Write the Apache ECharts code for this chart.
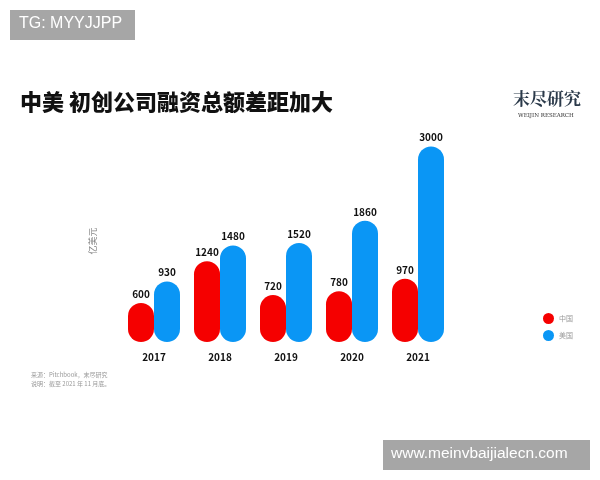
<!DOCTYPE html>
<html>
<head>
<meta charset="utf-8">
<script src="https://cdn.jsdelivr.net/npm/echarts@6/dist/echarts.min.js"></script>
<style>html,body{margin:0;padding:0;background:#fff}#main{width:600px;height:480px}</style>
</head>
<body>
<div id="main"></div>
<script>
var years = ['2017', '2018', '2019', '2020', '2021']
var china = [600, 1240, 720, 780, 970]
var usa = [930, 1480, 1520, 1860, 3000]

var font = '"Noto Sans CJK SC", "Noto Sans", sans-serif'
var label = { show: true, position: 'top', fontWeight: 'bold', fontSize: 10, color: '#111', fontFamily: font, distance: 4 }

var option = {
  backgroundColor: '#fff',
  graphic: [
    { type: 'rect', left: 10, top: 10, shape: { width: 125, height: 30 }, style: { fill: '#a6a6a6' } },
    { type: 'text', left: 19, top: 16, style: { text: 'TG: MYYJJPP', fill: '#fff', font: '16px "Liberation Sans", Arial' } },
    { type: 'rect', left: 383, top: 440, shape: { width: 207, height: 30 }, style: { fill: '#a6a6a6' } },
    { type: 'text', left: 391, top: 446, style: { text: 'www.meinvbaijialecn.com', fill: '#fff', font: '15.5px "Liberation Sans", Arial' } },
    { type: 'text', left: 20, top: 91, style: { text: '中美 初创公司融资总额差距加大', fill: '#111', font: '900 22px ' + font } },
    { type: 'text', left: 513, top: 90, style: { text: '末尽研究', fill: '#2b3a4a', font: 'bold 17px "Noto Serif CJK SC", ' + font } },
    { type: 'text', left: 518, top: 113, style: { text: 'WEIJIN RESEARCH', fill: '#333', font: '5.5px "DejaVu Serif", serif' } },
    { type: 'text', left: 31, top: 372, style: { text: '来源：Pitchbook，末尽研究', fill: '#999', font: '6px ' + font } },
    { type: 'text', left: 31, top: 381, style: { text: '说明：截至 2021 年 11 月底。', fill: '#999', font: '6px ' + font } }
  ],
  legend: {
    right: 22, top: 308, orient: 'vertical', icon: 'circle', itemWidth: 11, itemHeight: 11, itemGap: 6,
    textStyle: { fontSize: 7, color: '#999', fontFamily: font },
    data: ['中国', '美国']
  },
  grid: { left: 121, right: 149, top: 140, bottom: 138 },
  xAxis: {
    type: 'category', data: years,
    axisLine: { show: false }, axisTick: { show: false },
    axisLabel: { fontWeight: 'bold', fontSize: 10, color: '#111', margin: 10, fontFamily: font }
  },
  yAxis: {
    type: 'value', min: 0, max: 3100,
    name: '亿美元', nameLocation: 'middle', nameRotate: 90, nameGap: 24,
    nameTextStyle: { color: '#888', fontSize: 9, fontFamily: font },
    axisLabel: { show: false }, splitLine: { show: false }, axisLine: { show: false }, axisTick: { show: false }
  },
  series: [
    { name: '中国', type: 'bar', data: china, barWidth: 26, barGap: '0%', itemStyle: { color: '#f50000', borderRadius: 13 }, label: label },
    { name: '美国', type: 'bar', data: usa, barWidth: 26, itemStyle: { color: '#0a96f5', borderRadius: 13 }, label: label }
  ]
}
echarts.init(document.getElementById('main')).setOption(option)
</script>
</body>
</html>
